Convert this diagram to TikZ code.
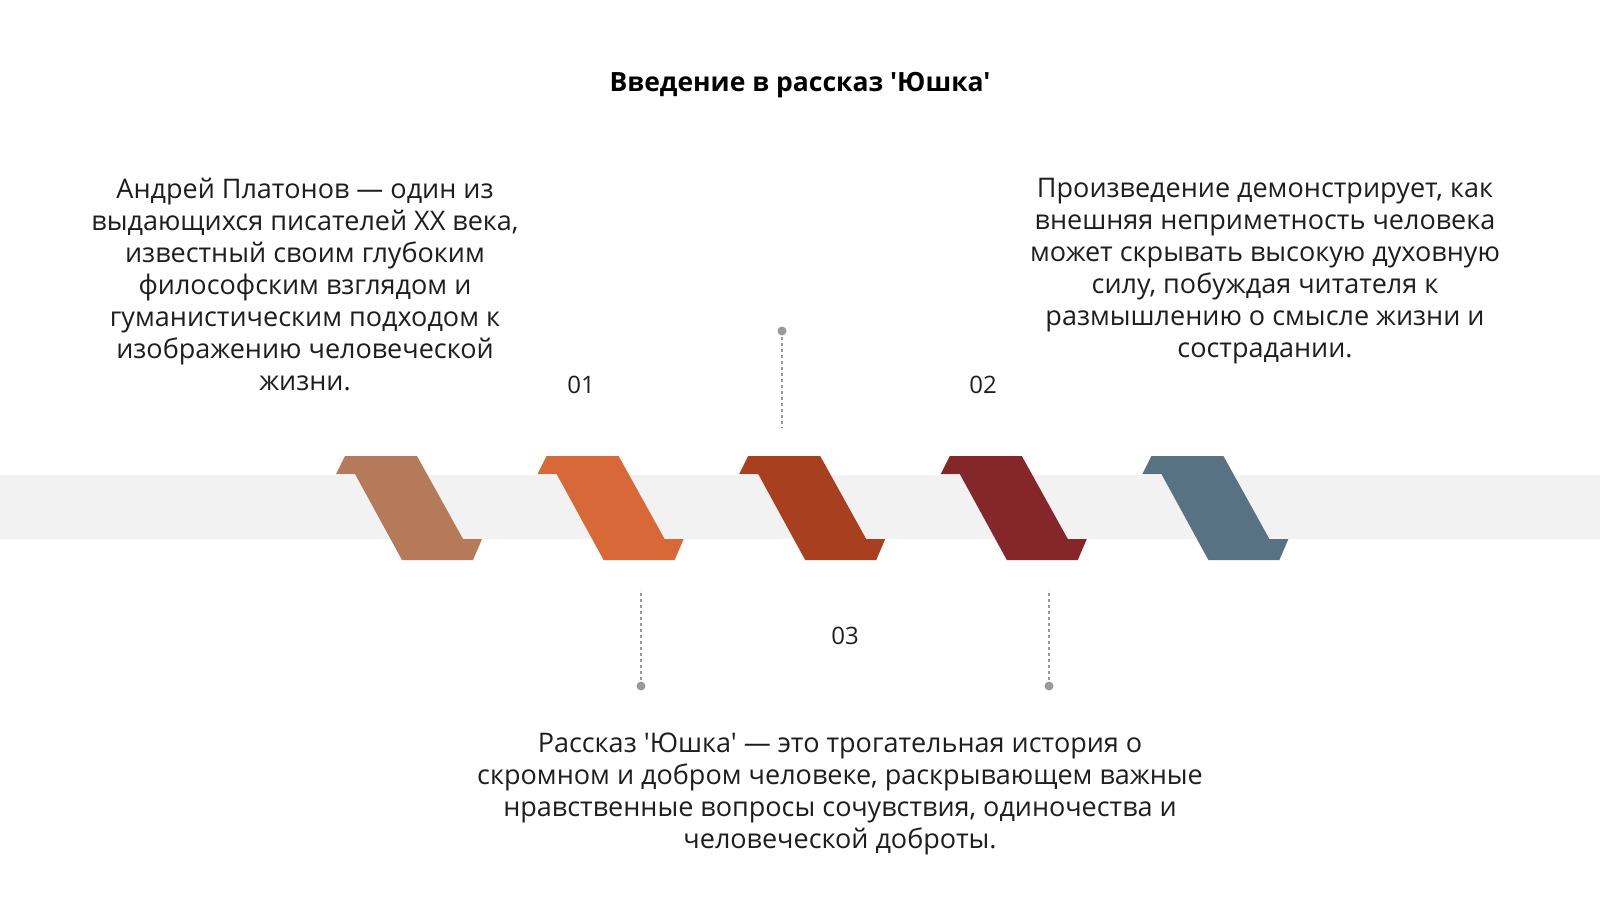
\documentclass[tikz,border=0pt]{standalone}
\usepackage{fontspec}
\setmainfont{Open Sans}[Ligatures=TeXOff]
\definecolor{bandgray}{HTML}{F2F2F2}
\definecolor{txt}{HTML}{1E1E1E}
\definecolor{dotgray}{HTML}{9A9A9A}
\definecolor{chA}{HTML}{B57A59}
\definecolor{chB}{HTML}{D96838}
\definecolor{chC}{HTML}{A8401F}
\definecolor{chD}{HTML}{84262A}
\definecolor{chE}{HTML}{587284}
\begin{document}
\begin{tikzpicture}[x=1pt,y=-1pt,font=\fontsize{27}{32}\selectfont,
	body/.style={text=txt,align=center,inner sep=0pt,anchor=north},
	num/.style={text=txt,inner sep=0pt,font=\fontsize{24}{30}\selectfont},
	pin/.style={dotgray,dashed,line width=1.2pt,dash pattern=on 3pt off 3pt}]
	\def\step{201.6}
	\def\chev(#1,#2){(#1,#2)--++(9,-18)--++(72,0)--++(46,83)--++(19,0)--++(-9,21)--++(-71,0)--++(-47,-86)--cycle}
	\useasboundingbox (0,0) rectangle (1600,900);
	\fill[white] (0,0) rectangle (1600,900);
	\fill[bandgray] (0,475) rectangle (1600,539);
	\foreach \c [count=\i from 0] in {chA,chB,chC,chD,chE}{
		\fill[\c] \chev(336+\i*\step,474);}
	%===========================================
	\node[font=\fontsize{26.5}{30}\selectfont\bfseries,text=black] (title) at (800,85) {Введение в рассказ 'Юшка'};
	\node[body] (left) at (305,178) {Андрей Платонов — один из\\выдающихся писателей XX века,\\известный своим глубоким\\философским взглядом и\\гуманистическим подходом к\\изображению человеческой\\жизни.};
	\node[body] (right) at (1265,178) {Произведение демонстрирует, как\\внешняя неприметность человека\\может скрывать высокую духовную\\силу, побуждая читателя к\\размышлению о смысле жизни и\\сострадании.};
	\node[body] (bottom) at (840,733) {Рассказ 'Юшка' — это трогательная история о\\скромном и добром человеке, раскрывающем важные\\нравственные вопросы сочувствия, одиночества и\\человеческой доброты.};
	\node[num] (n1) at (581,385) {01};
	\node[num] (n2) at (983,385) {02};
	\node[num] (n3) at (845,636) {03};
	%===========================================
	\coordinate (p1) at (782,331); \coordinate (q1) at (782,428);
	\coordinate (p2) at (641,686); \coordinate (q2) at (641,590);
	\coordinate (p3) at (1049,686); \coordinate (q3) at (1049,590);
	\foreach \k in {1,2,3}{
		\draw[pin] (p\k)--(q\k);
		\fill[dotgray] (p\k) circle (4.5pt);}
\end{tikzpicture}
\end{document}
